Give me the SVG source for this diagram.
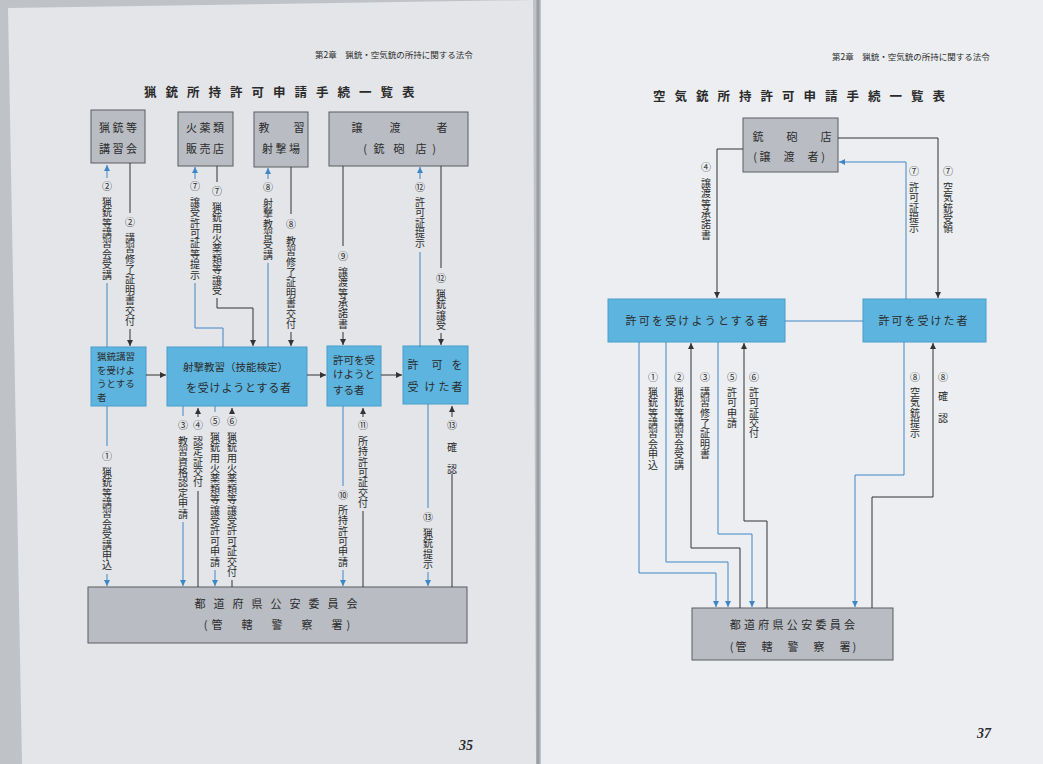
<svg xmlns="http://www.w3.org/2000/svg" width="1043" height="764" viewBox="0 0 1043 764">
<defs>
<style>
text{font-family:"Noto Sans CJK JP","Noto Sans CJK SC",sans-serif;fill:#2b2b2b}
.bl{stroke:#3f86c6;fill:none;stroke-width:1}
.bk{stroke:#333;fill:none;stroke-width:1}
.gbox{fill:#b9bcc2;stroke:#5a5c60;stroke-width:1}
.bbox{fill:#5db4df;stroke:#4c9ccb;stroke-width:1}
.t{font-size:11px;text-anchor:middle}
.n{font-size:10px;text-anchor:middle}
.v{font-size:10px;text-anchor:middle}
.hd{font-size:8.5px}
.ti{font-size:12.5px;font-weight:bold;letter-spacing:9px}
.pg{font-family:"Liberation Serif",serif;font-size:14px;font-weight:bold;font-style:italic}
</style>
<marker id="ab" markerWidth="6" markerHeight="6" refX="6" refY="3" orient="auto" markerUnits="userSpaceOnUse"><path d="M0,0 L6,3 L0,6 z" fill="#3f86c6"/></marker>
<marker id="ak" markerWidth="6" markerHeight="6" refX="6" refY="3" orient="auto" markerUnits="userSpaceOnUse"><path d="M0,0 L6,3 L0,6 z" fill="#333"/></marker>
</defs>

<!-- pages -->
<rect x="0" y="0" width="1043" height="764" fill="#bfc2c7"/>
<polygon points="8,8 533,0 536,764 22,764" fill="#e3e5e9"/>
<rect x="541" y="0" width="502" height="764" fill="#eceef1"/>
<line x1="538" y1="0" x2="538" y2="764" stroke="#9a9da2" stroke-width="3"/>

<!-- headers -->
<text class="hd" x="315" y="58">第2章　猟銃・空気銃の所持に関する法令</text>
<text class="ti" x="144" y="97">猟銃所持許可申請手続一覧表</text>
<text class="hd" x="832" y="60">第2章　猟銃・空気銃の所持に関する法令</text>
<text class="ti" x="653" y="101">空気銃所持許可申請手続一覧表</text>
<text class="pg" x="459" y="750">35</text>
<text class="pg" x="977" y="738">37</text>

<!-- LEFT DIAGRAM NODES -->
<g id="n-koshukai"><rect class="gbox" x="91" y="110" width="54" height="53"/>
<text class="t" x="118" y="132">猟 銃 等</text><text class="t" x="118" y="153">講 習 会</text></g>
<g id="n-kayaku"><rect class="gbox" x="178" y="112" width="55" height="54"/>
<text class="t" x="205" y="132">火 薬 類</text><text class="t" x="205" y="153">販 売 店</text></g>
<g id="n-kyoshu"><rect class="gbox" x="254" y="112" width="54" height="55"/>
<text class="t" x="264 299" y="132">教習</text><text class="t" x="281" y="153">射 撃 場</text></g>
<g id="n-jotosha"><rect class="gbox" x="329" y="112" width="139" height="54"/>
<text class="t" x="357 395 442" y="132">譲渡者</text><text class="t" x="365 379 399 421 434" y="153">(銃砲店)</text></g>

<g id="n-koshu-uke"><rect class="bbox" x="91" y="347" width="55" height="59"/>
<text font-size="9.5" x="97" y="360">猟銃講習</text><text font-size="9.5" x="97" y="373.5">を受けよ</text>
<text font-size="9.5" x="97" y="387">うとする</text><text font-size="9.5" x="97" y="400.5">者</text></g>
<g id="n-shageki-uke"><rect class="bbox" x="167" y="347" width="140" height="59"/>
<text font-size="10.5" x="183" y="371">射撃教習（技能検定）</text>
<text font-size="11" x="186" y="392" letter-spacing="0.8">を受けようとする者</text></g>
<g id="n-kyoka-uke"><rect class="bbox" x="327" y="346" width="54" height="60"/>
<text font-size="10.5" x="333" y="364">許可を受</text><text font-size="10.5" x="333" y="378">けようと</text>
<text font-size="10.5" x="333" y="394">する者</text></g>
<g id="n-kyoka-ta"><rect class="bbox" x="403" y="346" width="65" height="58"/>
<text class="t" font-size="12" x="413 437 457" y="369">許可を</text>
<text class="t" font-size="12" x="413 430 444 457" y="391">受けた者</text></g>

<g id="n-koan-l"><rect class="gbox" x="88" y="587" width="379" height="56"/>
<text class="t" font-size="12" x="280" y="608" letter-spacing="8">都道府県公安委員会</text>
<text class="t" font-size="12" x="279" y="629" letter-spacing="4">(管　轄　警　察　署)</text></g>

<!-- RIGHT DIAGRAM NODES -->
<g id="n-juhoten"><rect class="gbox" x="743" y="118" width="95" height="54"/>
<text class="t" x="758 792 826" y="141">銃砲店</text>
<text class="t" x="755 765 789 813 823" y="161">(譲渡者)</text></g>
<g id="n-r-uke"><rect class="bbox" x="608" y="299" width="177" height="43"/>
<text class="t" x="698" y="325" letter-spacing="2.2">許可を受けようとする者</text></g>
<g id="n-r-ta"><rect class="bbox" x="863" y="299" width="123" height="43"/>
<text class="t" x="924" y="325" letter-spacing="2">許可を受けた者</text></g>
<g id="n-koan-r"><rect class="gbox" x="692" y="608" width="201" height="52"/>
<text class="t" font-size="12" x="794" y="629" letter-spacing="3.3">都道府県公安委員会</text>
<text class="t" font-size="12" x="794" y="651" letter-spacing="2">(管　轄　警　察　署)</text></g>

<!-- CONNECTORS -->
<g id="connectors">
<path class="bl" d="M107,347 V283 M107,178 V165" marker-end="url(#ab)"/>
<path class="bk" d="M130,163 V213 M130,329 V346" marker-end="url(#ak)"/>
<path class="bl" d="M223,347 V328 H195 V283 M195,179 V167" marker-end="url(#ab)"/>
<path class="bk" d="M217,166 V182 M217,298 V308 H253 V346" marker-end="url(#ak)"/>
<path class="bl" d="M268,347 V263 M268,179 V168" marker-end="url(#ab)"/>
<path class="bk" d="M291,167 V214 M291,332 V346" marker-end="url(#ak)"/>
<path class="bk" d="M343,166 V246 M343,332 V345" marker-end="url(#ak)"/>
<path class="bl" d="M420,347 V252 M420,179 V167" marker-end="url(#ab)"/>
<path class="bk" d="M441,166 V268 M441,333 V345" marker-end="url(#ak)"/>
<path class="bk" d="M146,375 H166" marker-end="url(#ak)"/>
<path class="bk" d="M307,375 H326" marker-end="url(#ak)"/>
<path class="bk" d="M381,375 H402" marker-end="url(#ak)"/>
<path class="bl" d="M107,406 V446 M107,574 V586" marker-end="url(#ab)"/>
<path class="bl" d="M183,406 V416 M183,522 V586" marker-end="url(#ab)"/>
<path class="bk" d="M198,587 V491 M198,417 V408" marker-end="url(#ak)"/>
<path class="bl" d="M215,406 V412 M215,570 V586" marker-end="url(#ab)"/>
<path class="bk" d="M232,587 V580 M232,413 V408" marker-end="url(#ak)"/>
<path class="bl" d="M343,406 V486 M343,570 V586" marker-end="url(#ab)"/>
<path class="bk" d="M363,587 V511 M363,417 V408" marker-end="url(#ak)"/>
<path class="bl" d="M428,404 V508 M428,572 V586" marker-end="url(#ab)"/>
<path class="bk" d="M452,587 V474 M452,417 V406" marker-end="url(#ak)"/>
<path class="bk" d="M743,149 H717 V298" marker-end="url(#ak)"/>
<path class="bl" d="M906,299 V162 H839" marker-end="url(#ab)"/>
<path class="bk" d="M838,138 H938 V298" marker-end="url(#ak)"/>
<path class="bl" d="M785,321 H863" stroke-width="1.5"/>
<path class="bl" d="M639,342 V573 H716 V607" marker-end="url(#ab)"/>
<path class="bl" d="M666,342 V562 H728 V607" marker-end="url(#ab)"/>
<path class="bk" d="M740,608 V548 H691 V343" marker-end="url(#ak)"/>
<path class="bl" d="M718,342 V534 H752 V607" marker-end="url(#ab)"/>
<path class="bk" d="M767,608 V521 H744 V343" marker-end="url(#ak)"/>
<path class="bl" d="M904,342 V475 H855 V607" marker-end="url(#ab)"/>
<path class="bk" d="M872,608 V497 H933 V343" marker-end="url(#ak)"/>

<g id="labels">
<text class="n" x="107" y="190">②</text>
<text class="v" x="107 107 107 107 107 107 107 107" y="205.7 216.1 226.5 236.9 247.3 257.7 268.1 278.5">猟銃等講習会受講</text>
<text class="n" x="130" y="226">②</text>
<text class="v" x="130 130 130 130 130 130 130 130 130" y="241.7 252.1 262.5 272.9 283.3 293.7 304.1 314.5 324.9">講習修了証明書交付</text>
<text class="n" x="195" y="190">⑦</text>
<text class="v" x="195 195 195 195 195 195 195 195" y="205.7 216.1 226.5 236.9 247.3 257.7 268.1 278.5">譲受許可証等提示</text>
<text class="n" x="217" y="195">⑦</text>
<text class="v" x="217 217 217 217 217 217 217 217 217" y="210.7 221.1 231.5 241.9 252.3 262.7 273.1 283.5 293.9">猟銃用火薬類等譲受</text>
<text class="n" x="268" y="191">⑧</text>
<text class="v" x="268 268 268 268 268 268" y="206.7 217.1 227.5 237.9 248.3 258.7">射撃教習受講</text>
<text class="n" x="291" y="228">⑧</text>
<text class="v" x="291 291 291 291 291 291 291 291 291" y="244.7 255.1 265.5 275.9 286.3 296.7 307.1 317.5 327.9">教習修了証明書交付</text>
<text class="n" x="343" y="260">⑨</text>
<text class="v" x="343 343 343 343 343 343" y="275.7 286.1 296.5 306.9 317.3 327.7">譲渡等承諾書</text>
<text class="n" x="420" y="191">⑫</text>
<text class="v" x="420 420 420 420 420" y="205.7 216.1 226.5 236.9 247.3">許可証提示</text>
<text class="n" x="441" y="282">⑫</text>
<text class="v" x="441 441 441 441" y="297.7 308.1 318.5 328.9">猟銃譲受</text>

<text class="n" x="107" y="460">①</text>
<text class="v" x="107 107 107 107 107 107 107 107 107 107" y="475.7 486.1 496.5 506.9 517.3 527.7 538.1 548.5 558.9 569.3">猟銃等講習会受講申込</text>
<text class="n" x="183" y="429">③</text>
<text class="v" x="183 183 183 183 183 183 183 183" y="444.7 455.1 465.5 475.9 486.3 496.7 507.1 517.5">教習資格認定申請</text>
<text class="n" x="198" y="429">④</text>
<text class="v" x="198 198 198 198 198" y="444.7 455.1 465.5 475.9 486.3">認定証交付</text>
<text class="n" x="215" y="425">⑤</text>
<text class="v" x="215 215 215 215 215 215 215 215 215 215 215 215 215" y="440.7 451.1 461.5 471.9 482.3 492.7 503.1 513.5 523.9 534.3 544.7 555.1 565.5">猟銃用火薬類等譲受許可申請</text>
<text class="n" x="232" y="425">⑥</text>
<text class="v" x="232 232 232 232 232 232 232 232 232 232 232 232 232 232" y="440.7 451.1 461.5 471.9 482.3 492.7 503.1 513.5 523.9 534.3 544.7 555.1 565.5 575.9">猟銃用火薬類等譲受許可証交付</text>
<text class="n" x="343" y="499">⑩</text>
<text class="v" x="343 343 343 343 343 343" y="513.7 524.1 534.5 544.9 555.3 565.7">所持許可申請</text>
<text class="n" x="363" y="429">⑪</text>
<text class="v" x="363 363 363 363 363 363 363" y="444.7 455.1 465.5 475.9 486.3 496.7 507.1">所持許可証交付</text>
<text class="n" x="428" y="521">⑬</text>
<text class="v" x="428 428 428 428" y="536.7 547.1 557.5 567.9">猟銃提示</text>
<text class="n" x="452" y="429">⑬</text>
<text class="v" x="452 452" y="451 473">確認</text>

<text class="n" x="706" y="171">④</text>
<text class="v" x="706 706 706 706 706 706" y="186.7 197.1 207.5 217.9 228.3 238.7">譲渡等承諾書</text>
<text class="n" x="914" y="175">⑦</text>
<text class="v" x="914 914 914 914 914" y="190.7 201.1 211.5 221.9 232.3">許可証提示</text>
<text class="n" x="948" y="175">⑦</text>
<text class="v" x="948 948 948 948 948" y="190.7 201.1 211.5 221.9 232.3">空気銃受領</text>
<text class="n" x="653" y="381">①</text>
<text class="v" x="653 653 653 653 653 653 653 653" y="395.7 406.1 416.5 426.9 437.3 447.7 458.1 468.5">猟銃等講習会申込</text>
<text class="n" x="679" y="381">②</text>
<text class="v" x="679 679 679 679 679 679 679 679" y="395.7 406.1 416.5 426.9 437.3 447.7 458.1 468.5">猟銃等講習会受講</text>
<text class="n" x="705" y="381">③</text>
<text class="v" x="705 705 705 705 705 705 705" y="395.7 406.1 416.5 426.9 437.3 447.7 458.1">講習修了証明書</text>
<text class="n" x="732" y="381">⑤</text>
<text class="v" x="732 732 732 732" y="395.7 406.1 416.5 426.9">許可申請</text>
<text class="n" x="754" y="381">⑥</text>
<text class="v" x="754 754 754 754 754" y="395.7 406.1 416.5 426.9 437.3">許可証交付</text>
<text class="n" x="915" y="381">⑧</text>
<text class="v" x="915 915 915 915 915" y="395.7 406.1 416.5 426.9 437.3">空気銃提示</text>
<text class="n" x="943" y="381">⑧</text>
<text class="v" x="943 943" y="400 422">確認</text>
</g>
</g>
</svg>
